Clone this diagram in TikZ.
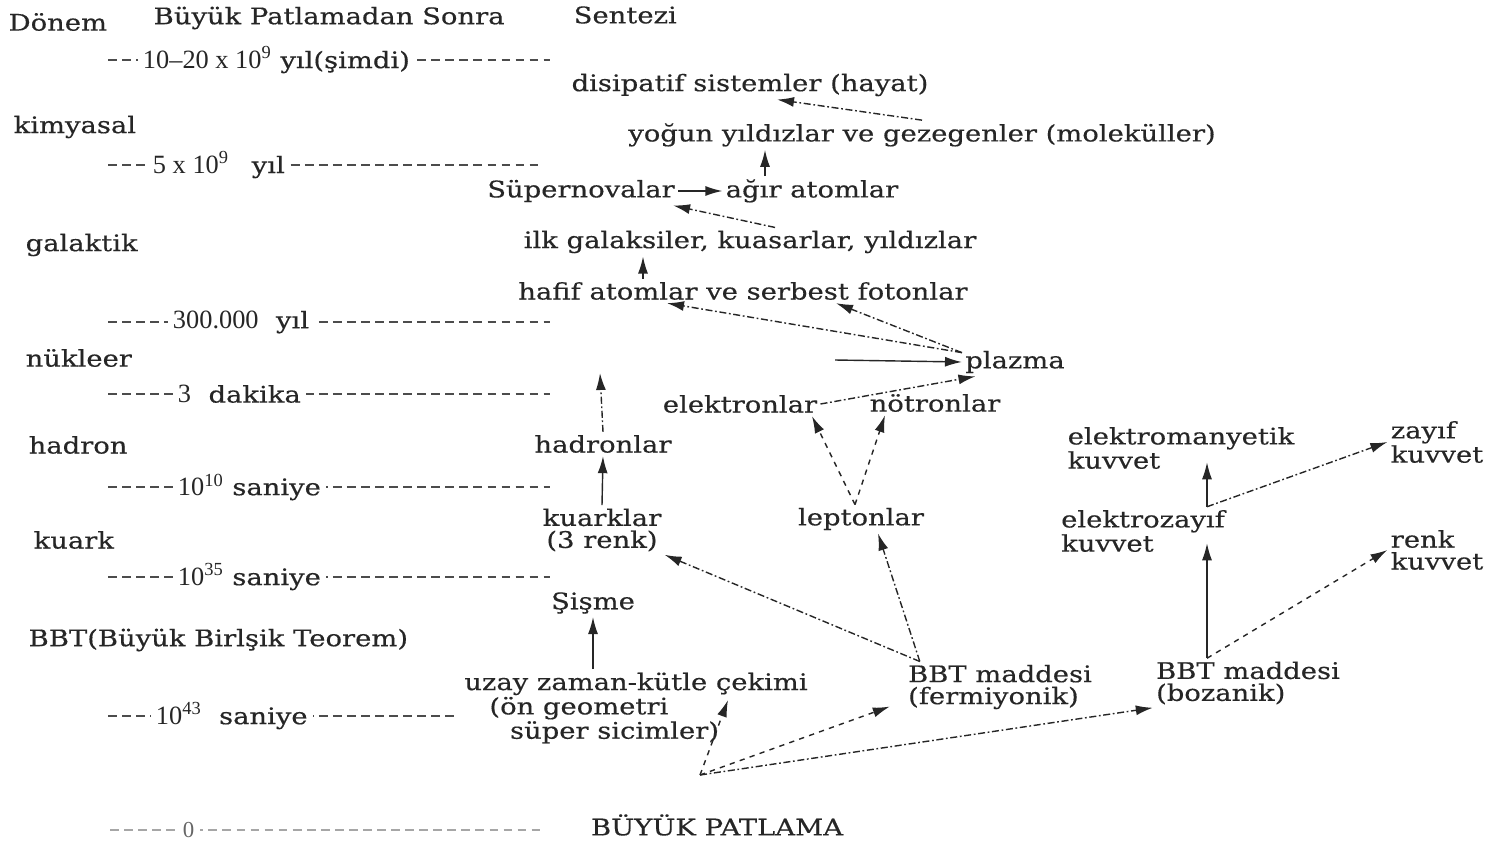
\documentclass[tikz,border=0pt]{standalone}
\usepackage{fontspec}
\setmainfont{DejaVu Serif}[FakeStretch=1.2,FakeBold=0.4]
\newfontfamily\numfont{Liberation Serif}
\usetikzlibrary{arrows,arrows.meta,calc}

\tikzset{
  stage/.style={font=\fontsize{13}{12.5}\selectfont, inner sep=1.5pt, align=left},
  era/.style={font=\fontsize{13}{12.5}\selectfont, anchor=west, inner sep=0pt},
  timemark/.style={font=\fontsize{13}{15}\selectfont, fill=white, inner sep=3pt, anchor=west},
  timeline/.style={dash pattern=on 5pt off 3pt, black!70, semithick},
  flowdash/.style={dash pattern=on 4pt off 1.5pt on 1pt off 1.5pt},
}

\begin{document}
\begin{tikzpicture}
   [x=0.02cm,y=-0.02cm,>={Latex[length=3.4mm,width=2mm]},thick,black!85]
   \useasboundingbox (0,0) rectangle (1487,845);

   % headings and eras
   \node[era] (hdEra) at (8,22) {Dönem};
   \node[era] (hdTime) at (153,18) {Büyük Patlamadan Sonra};
   \node[era] (hdSynth) at (573,15) {Sentezi};
   \node[era] (eChem) at (13,127) {kimyasal};
   \node[era] (eGal) at (25,245) {galaktik};
   \node[era] (eNuc) at (25,358) {nükleer};
   \node[era] (eHad) at (28,445) {hadron};
   \node[era] (eQrk) at (33,540) {kuark};
   \node[era] (eGut) at (28,640) {BBT(Büyük Birlşik Teorem)};

   % time marks
   \begin{scope}[timeline]
      \draw (108,60) -- (550,60);
      \draw (108,165) -- (540,165);
      \draw (108,322) -- (550,322);
      \draw (108,394) -- (550,394);
      \draw (108,487) -- (550,487);
      \draw (108,577) -- (550,577);
      \draw (108,716) -- (455,716);
      \draw[black!35] (110,830) -- (545,830);
   \end{scope}
   \node[timemark] (tNow) at (137,60) {{\numfont\fontsize{15}{17}\selectfont 10–20 x 10\textsuperscript{9}} yıl(şimdi)};
   \node[timemark] (tChem) at (147,165) {{\numfont\fontsize{15}{17}\selectfont 5 x 10\textsuperscript{9}}\quad yıl};
   \node[timemark] (tGal) at (167,322) {{\numfont\fontsize{15}{17}\selectfont 300.000}\ \ yıl};
   \node[timemark] (tNuc) at (172,394) {{\numfont\fontsize{15}{17}\selectfont 3}\ \ dakika};
   \node[timemark] (tHad) at (172,487) {{\numfont\fontsize{15}{17}\selectfont 10\textsuperscript{10}} saniye};
   \node[timemark] (tQrk) at (172,577) {{\numfont\fontsize{15}{17}\selectfont 10\textsuperscript{35}} saniye};
   \node[timemark] (tGut) at (150,716) {{\numfont\fontsize{15}{17}\selectfont 10\textsuperscript{43}}\ \ saniye};
   \node[timemark,text=black!60] (tZero) at (177,830) {{\numfont 0}};

   % synthesis chain
   \node[stage] (dissip) at (750,85) {disipatif sistemler (hayat)};
   \node[stage] (dense) at (922,135) {yoğun yıldızlar ve gezegenler (moleküller)};
   \node[stage] (superno) at (581,191) {Süpernovalar};
   \node[stage] (heavy) at (812,191) {ağır atomlar};
   \node[stage] (galax) at (750,242) {ilk galaksiler, kuasarlar, yıldızlar};
   \node[stage] (light) at (743,291) {hafif atomlar ve serbest fotonlar};
   \node[stage] (plasma) at (1015,362) {plazma};
   \node[stage] (electr) at (740,404) {elektronlar};
   \node[stage] (neutr) at (935,403) {nötronlar};
   \node[stage] (hadrons) at (603,444) {hadronlar};
   \node[stage,align=center] (quarks) at (602,530) {kuarklar\\(3 renk)};
   \node[stage] (leptons) at (861,519) {leptonlar};
   \node[stage] (inflat) at (593,603) {Şişme};
   \node[stage] (spacet) at (636,708) {uzay zaman-kütle çekimi\\\hspace{1.1em}(ön geometri\\\hspace{2em}süper sicimler)};
   \node[stage] (fermi) at (1000,687) {BBT maddesi\\(fermiyonik)};
   \node[stage] (boson) at (1248,683) {BBT maddesi\\(bozanik)};
   \node[stage] (emforce) at (1181,448) {elektromanyetik\\kuvvet};
   \node[stage] (weak) at (1437,442) {zayıf\\kuvvet};
   \node[stage] (ewforce) at (1143,531) {elektrozayıf\\kuvvet};
   \node[stage] (color) at (1437,550) {renk\\kuvvet};
   \node[stage] (bigbang) at (717,825) {BÜYÜK PATLAMA};

   \coordinate (bang) at (700,775);
   \coordinate (fromleft) at (835,360);
   \coordinate (hadup) at (600,373);
   \coordinate (bosup) at ($(boson.north)+(-41,0)$);
   \coordinate (ewup) at (ewforce.north -| bosup);
   \coordinate (fermup) at ($(fermi.north west)+(15,0)$);
   \coordinate (leptup) at ($(leptons.north)+(-6,0)$);

   % arrows
   \draw[->,flowdash] (dense.north) -- ($(dissip.south)+(27,0)$);
   \draw[->] ($(heavy.north)+(-47,0)$) -- ($(dense.south)+(-157,0)$);
   \draw[->] (superno.east) -- (heavy.west);
   \draw[->,flowdash] ($(galax.north)+(25,0)$) -- ($(superno.south east)+(-5,0)$);
   \draw[->] ($(light.north)+(-100,0)$) -- ($(galax.south)+(-107,0)$);
   \draw[->,flowdash] (plasma.170) -- ($(light.south)+(-76,0)$);
   \draw[->,flowdash] (plasma.170) -- ($(light.south)+(93,0)$);
   \draw[->] (fromleft) -- (plasma.west);
   \draw[->,flowdash] (electr.east) -- (plasma.200);
   \draw[->,dashed] (leptup) -- ($(electr.south)+(72,0)$);
   \draw[->,dashed] (leptup) -- ($(neutr.south)+(-50,0)$);
   \draw[->,flowdash] (hadrons.north) -- (hadup);
   \draw[->] (quarks.north) -- (hadrons.south);
   \draw[->] (spacet.north -| inflat.south) -- (inflat.south);
   \draw[->,flowdash] (fermup) -- (quarks.south east);
   \draw[->,flowdash] (fermup) -- ($(leptons.south)+(17,0)$);
   \draw[->,dashed] (bang) -- ($(spacet.east)+(-83,-8)$);
   \draw[->,dashed] (bang) -- ($(fermi.south west)+(-15,-6)$);
   \draw[->,flowdash] (bang) -- (boson.south west);
   \draw[->] (bosup) -- ($(bosup |- ewforce.south)+(0,-12)$);
   \draw[->,dashed] (bosup) -- (color.west);
   \draw[->] (ewup) -- ($(ewup |- emforce.south)+(0,-10)$);
   \draw[->,flowdash] (ewup) -- (weak.west);
\end{tikzpicture}
\end{document}
